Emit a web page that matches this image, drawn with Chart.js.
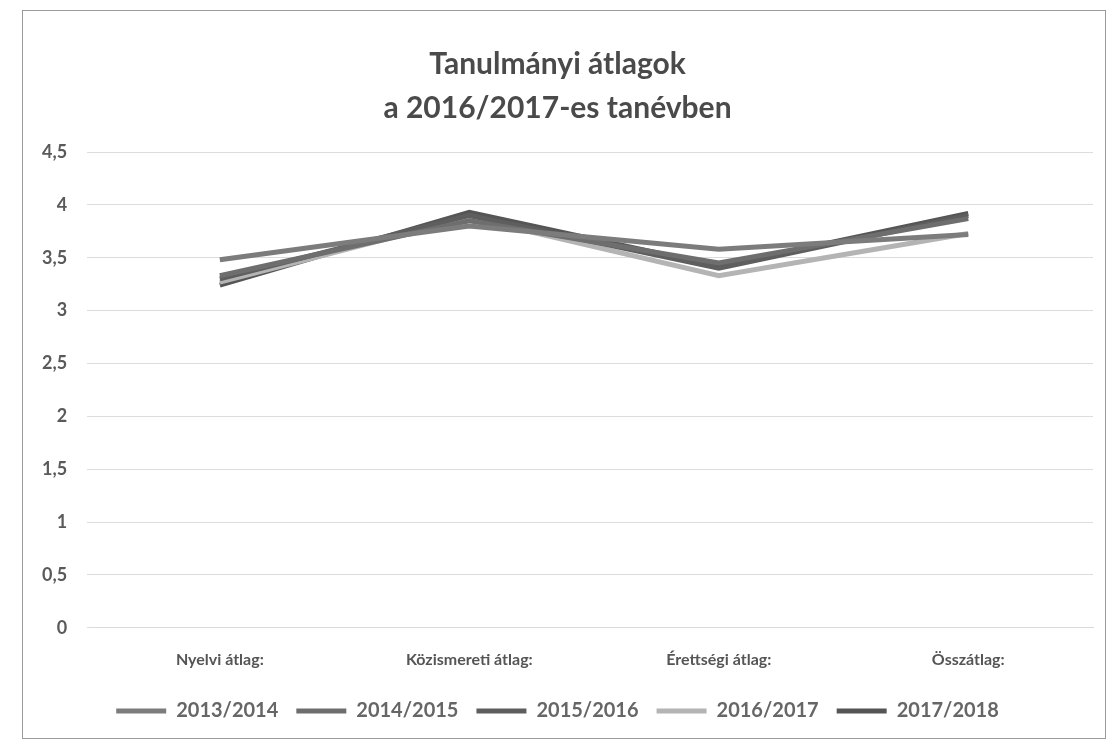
<!DOCTYPE html>
<html>
<head>
<meta charset="utf-8">
<script src="https://cdn.jsdelivr.net/npm/chart.js@4.4.0/dist/chart.umd.min.js"></script>
<style>
  html, body { margin: 0; padding: 0; background: #fff; }
  #wrap { position: relative; width: 1115px; height: 750px; }
  #frame { position: absolute; left: 22px; top: 10px; width: 1082px; height: 727px;
           border: 1px solid #9a9a9a; pointer-events: none; }
</style>
</head>
<body>
<div id="wrap">
  <canvas id="grafico" width="1115" height="750"></canvas>
  <div id="frame"></div>
</div>
<script>
// Kategóriák és évfolyamok
const kategoriak = ['Nyelvi átlag:', 'Közismereti átlag:', 'Érettségi átlag:', 'Összátlag:']
const tanevek = ['2013/2014', '2014/2015', '2015/2016', '2016/2017', '2017/2018']

// Átlagok tanévenként
const ertekek2013 = [3.48, 3.80, 3.58, 3.72]
const ertekek2014 = [3.33, 3.85, 3.45, 3.87]
const ertekek2015 = [3.30, 3.90, 3.40, 3.90]
const ertekek2016 = [3.27, 3.88, 3.33, 3.73]
const ertekek2017 = [3.24, 3.93, 3.42, 3.92]

const tengelyJelek = [0, 0.5, 1, 1.5, 2, 2.5, 3, 3.5, 4, 4.5]

const szinek = ['#7c7c7c', '#6e6e6e', '#5e5e5e', '#b4b4b4', '#555555']
const sorok = [ertekek2013, ertekek2014, ertekek2015, ertekek2016, ertekek2017]

var ctx = document.getElementById('grafico').getContext('2d')
new Chart(ctx, {
  type: 'line',
  data: {
    labels: kategoriak,
    datasets: tanevek.map((nev, i) => ({
      label: nev,
      data: sorok[i],
      borderColor: szinek[i],
      backgroundColor: szinek[i],
      borderWidth: 5,
      pointRadius: 0,
      tension: 0
    }))
  },
  options: {
    responsive: false,
    animation: false,
    layout: { padding: { left: 22, right: 22, top: 43, bottom: 19 } },
    plugins: {
      title: {
        display: true,
        text: ['Tanulmányi átlagok', 'a 2016/2017-es tanévben'],
        color: '#4a4a4a',
        font: { family: 'Lato', size: 30, weight: 'bold', lineHeight: 1.45 },
        padding: { top: 0, bottom: 22 }
      },
      legend: {
        position: 'bottom',
        labels: {
          usePointStyle: true,
          pointStyle: 'line',
          pointStyleWidth: 50,
          boxWidth: 50,
          color: '#666',
          padding: 18,
          font: { family: 'Lato', size: 20, weight: 'bold' }
        }
      },
      tooltip: { enabled: false }
    },
    scales: {
      x: {
        offset: true,
        grid: { display: false },
        border: { color: '#d9d9d9' },
        ticks: { color: '#555', font: { family: 'Lato', size: 16, weight: 'bold' }, padding: 14 }
      },
      y: {
        min: 0,
        max: 4.5,
        afterBuildTicks: axis => { axis.ticks = tengelyJelek.map(v => ({ value: v })) },
        grid: { color: '#dcdcdc' },
        border: { display: false },
        ticks: {
          color: '#5a5a5a',
          padding: 20,
          font: { family: 'Lato', size: 18, weight: 'bold' },
          callback: v => String(v).replace('.', ',')
        }
      }
    }
  }
})
</script>
</body>
</html>
